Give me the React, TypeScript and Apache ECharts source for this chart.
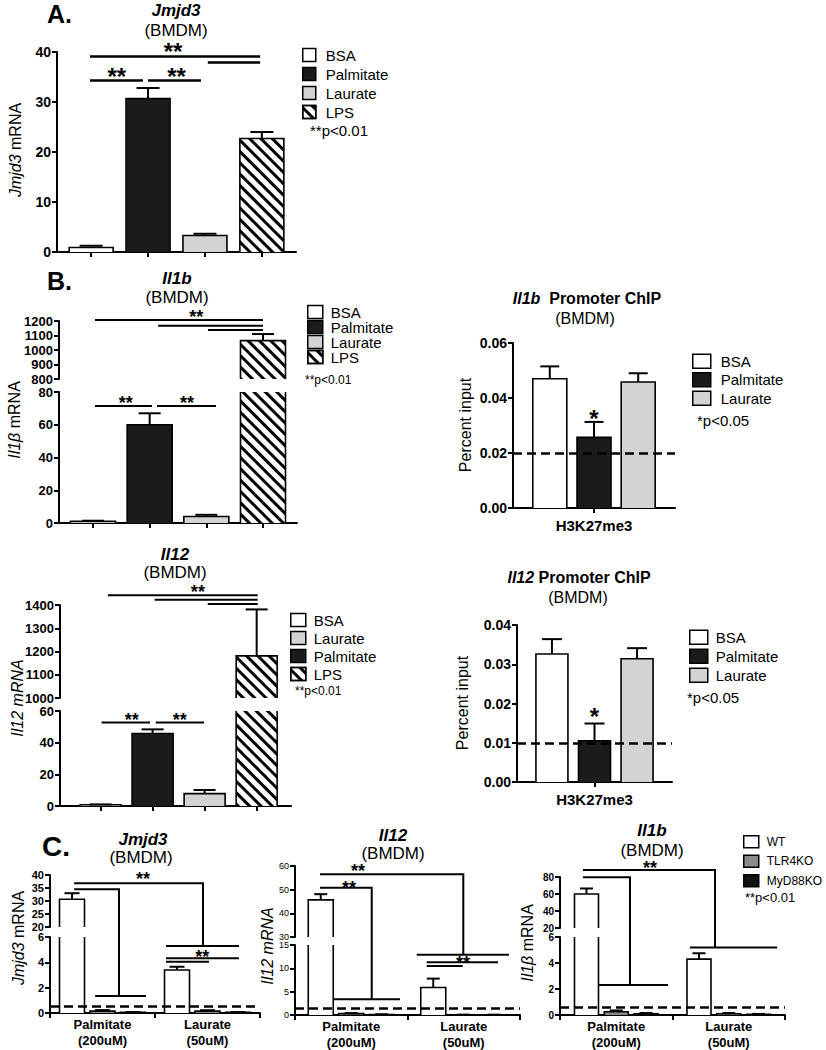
import React, { useEffect, useRef } from 'react';
import * as echarts from 'echarts';

const FONT = '"Liberation Sans", Arial, Helvetica, sans-serif';

// ---------------- DATA ----------------
const mainCategories = ['BSA', 'Palmitate', 'Laurate', 'LPS'];

const jmjd3Values = [0.9, 30.7, 3.3, 22.7];
const jmjd3Errors = [0.35, 2.1, 0.35, 1.3];
const jmjd3Axis = { min: 0, max: 40, step: 10 };

const il1bValues = [1.0, 60, 4.0, 1065];
const il1bErrors = [0.4, 7, 1.0, 45];
const il1bUpperAxis = { min: 800, max: 1200, step: 100 };
const il1bLowerAxis = { min: 0, max: 80, step: 20 };

const il12Values = [0.8, 45.8, 7.8, 1181];
const il12Errors = [0.2, 2.6, 2.3, 200];
const il12LegendOrder = ['BSA', 'Laurate', 'Palmitate', 'LPS'];
const il12UpperAxis = { min: 1000, max: 1400, step: 100 };
const il12LowerAxis = { min: 0, max: 60, step: 20 };

const chipCategories = ['H3K27me3'];
const chipTreatments = ['BSA', 'Palmitate', 'Laurate'];
const il1bChipValues = [0.047, 0.0257, 0.0458];
const il1bChipErrors = [0.0045, 0.0056, 0.0032];
const il1bChipBackground = 0.02;
const il1bChipAxis = { min: 0, max: 0.06, step: 0.02 };
const il12ChipValues = [0.0326, 0.0105, 0.0314];
const il12ChipErrors = [0.0038, 0.0044, 0.0027];
const il12ChipBackground = 0.0133;
const il12ChipAxis = { min: 0, max: 0.04, step: 0.01 };

const koGroups = ['Palmitate\n(200uM)', 'Laurate\n(50uM)'];
const genotypes = ['WT', 'TLR4KO', 'MyD88KO'];
const koJmjd3Values = [[30.7, 3.4], [0.15, 0.15], [0.05, 0.05]];
const koJmjd3Errors = [[2.3, 0.25], [0.08, 0.07], [0.02, 0.02]];
const koJmjd3Background = 0.55;
const koJmjd3UpperAxis = { min: 20, max: 40, step: 5 };
const koJmjd3LowerAxis = { min: 0, max: 6, step: 2 };
const koIl12Values = [[45.7, 5.9], [0.3, 0.05], [0.1, 0.05]];
const koIl12Errors = [[2.4, 1.9], [0.1, 0.03], [0.05, 0.02]];
const koIl12Background = 1.4;
const koIl12UpperAxis = { min: 30, max: 60, step: 10 };
const koIl12LowerAxis = { min: 0, max: 15, step: 5 };
const koIl1bValues = [[60, 4.3], [0.25, 0.1], [0.1, 0.05]];
const koIl1bErrors = [[6.5, 0.45], [0.1, 0.05], [0.05, 0.03]];
const koIl1bBackground = 0.6;
const koIl1bUpperAxis = { min: 20, max: 80, step: 20 };
const koIl1bLowerAxis = { min: 0, max: 6, step: 2 };

// significance brackets: points [gridIndex, x (category units), y (data units)]
const bracketsA = [
  [[0, -0.02, 39.1], [0, 2.97, 39.1]],
  [[0, 2.05, 37.9], [0, 2.97, 37.9]],
  [[0, -0.02, 34.3], [0, 0.91, 34.3]],
  [[0, 1.0, 34.3], [0, 1.93, 34.3]],
];
const bracketsB = [
  [[1, 0.035, 1207], [1, 3.0, 1207]],
  [[1, 1.15, 1167.6], [1, 3.0, 1167.6]],
  [[1, 2.03, 1138], [1, 3.0, 1138]],
  [[2, 0.035, 71.5], [2, 1.04, 71.5]],
  [[2, 1.13, 71.5], [2, 2.17, 71.5]],
];
const bracketsIl12 = [
  [[4, 0.14, 1441.9], [4, 3.02, 1441.9]],
  [[4, 1.04, 1422.9], [4, 3.02, 1422.9]],
  [[4, 2.06, 1404.3], [4, 3.02, 1404.3]],
  [[5, 0.02, 52.8], [5, 0.95, 52.8]],
  [[5, 1.06, 52.8], [5, 1.99, 52.8]],
];
const bracketsC = [
  [[7, -0.27, 36.8], [7, 0.957, 36.8], [8, 0.957, 5.29]],
  [[8, 0.605, 5.29], [8, 1.3, 5.29]],
  [[7, -0.27, 34.5], [7, 0.157, 34.5], [8, 0.157, 1.34]],
  [[8, -0.07, 1.34], [8, 0.414, 1.34]],
  [[8, 0.605, 4.32], [8, 1.3, 4.32]],
  [[8, 0.605, 4.05], [8, 1.014, 4.05]],
  [[9, -0.278, 56.5], [9, 0.996, 56.5], [10, 0.996, 12.9]],
  [[10, 0.582, 12.9], [10, 1.402, 12.9]],
  [[9, -0.278, 50.8], [9, 0.182, 50.8], [10, 0.182, 3.4]],
  [[10, -0.153, 3.4], [10, 0.433, 3.4]],
  [[10, 0.671, 11.3], [10, 1.304, 11.3]],
  [[10, 0.671, 10.5], [10, 0.991, 10.5]],
  [[11, -0.296, 88.2], [11, 0.878, 88.2], [12, 0.878, 5.2]],
  [[12, 0.655, 5.2], [12, 1.43, 5.2]],
  [[11, -0.296, 79.6], [11, 0.122, 79.6], [12, 0.122, 2.3]],
  [[12, -0.216, 2.3], [12, 0.46, 2.3]],
];
// stars: [gridIndex, x, y, text, fontSize]
const stars: any[] = [
  [0, 1.44, 40.8, '**', 24], [0, 0.45, 35.8, '**', 24], [0, 1.5, 35.8, '**', 24],
  [1, 1.82, 1245, '**', 18], [2, 0.58, 75.1, '**', 18], [2, 1.66, 75.1, '**', 18],
  [4, 1.87, 1466, '**', 18], [5, 0.6, 56.3, '**', 18], [5, 1.52, 56.3, '**', 18],
  [3, 0, 0.034, '*', 24], [6, 0, 0.0177, '*', 24],
  [7, 0.386, 39.35, '**', 18], [8, 0.95, 4.62, '**', 18],
  [9, 0.06, 59.0, '**', 18], [9, -0.02, 51.8, '**', 18], [10, 0.993, 11.77, '**', 18],
  [11, 0.3, 94.1, '**', 18],
];

// ---------------- STYLE ----------------
const FILL: any = {
  BSA: '#ffffff', Palmitate: '#1b1b1b', Laurate: '#d3d3d3', LPS: '#ffffff',
  WT: '#ffffff', TLR4KO: '#8a8a8a', MyD88KO: '#111111',
};
const HATCH = {
  symbol: 'rect', symbolSize: 1, color: '#000', backgroundColor: '#fff',
  dashArrayX: [1, 0], dashArrayY: [3, 5], rotation: Math.PI / 4,
};
function barStyle(name: string) {
  const s: any = { color: FILL[name], borderWidth: 0 };
  if (name === 'LPS') s.decal = HATCH;
  return s;
}

const GRIDS = [
  { left: 57, top: 52, width: 239, height: 200 },
  { left: 59, top: 321, width: 238, height: 58 },
  { left: 59, top: 392, width: 238, height: 131 },
  { left: 513, top: 343, width: 162, height: 165 },
  { left: 60, top: 605, width: 231, height: 93 },
  { left: 60, top: 711, width: 231, height: 95 },
  { left: 517, top: 625, width: 155, height: 157 },
  { left: 50, top: 875, width: 210, height: 52 },
  { left: 50, top: 937, width: 210, height: 76 },
  { left: 295, top: 866, width: 225, height: 71 },
  { left: 295, top: 945, width: 225, height: 72 },
  { left: 560, top: 877, width: 225, height: 51 },
  { left: 560, top: 937, width: 225, height: 78 },
];

function yAxis(g: number, ax: any, fontSize: number, bold: boolean, decimals: number) {
  return {
    type: 'value', gridIndex: g, min: ax.min, max: ax.max, interval: ax.step,
    axisLine: { show: true, onZero: false, lineStyle: { color: '#000', width: 2 } },
    axisTick: { show: true, length: 5, lineStyle: { color: '#000', width: 2 } },
    splitLine: { show: false },
    axisLabel: {
      show: true, margin: 6, color: '#000', fontSize, fontWeight: bold ? 'bold' : 'normal',
      fontFamily: FONT, showMinLabel: true, showMaxLabel: true,
      formatter: (v: number) => v.toFixed(decimals),
    },
  };
}
function xValueAxis(g: number, min: number, max: number, visible: boolean) {
  return {
    type: 'value', gridIndex: g, min, max, show: visible,
    axisLine: { show: true, onZero: false, lineStyle: { color: '#000', width: 2 } },
    axisTick: { show: true, customValues: [0, 1, 2, 3], length: 5, lineStyle: { color: '#000', width: 2 } },
    axisLabel: { show: false },
    splitLine: { show: false },
  };
}
function xCatAxis(g: number, data: string[], visible: boolean, fontSize: number, align: boolean, margin: number) {
  return {
    type: 'category', gridIndex: g, data, show: visible,
    axisLine: { show: true, onZero: false, lineStyle: { color: '#000', width: 2 } },
    axisTick: { show: true, alignWithLabel: align, length: 5, lineStyle: { color: '#000', width: 2 } },
    axisLabel: { show: true, interval: 0, color: '#000', fontSize, fontWeight: 'bold', fontFamily: FONT, lineHeight: fontSize + 3, margin },
    splitLine: { show: false },
  };
}

// frame (open at breaks) + error bar for every bar of a grid
function frameSeries(g: number, rows: number[][], n: number, barW: number, gap: number, cap: number) {
  return {
    type: 'custom', xAxisIndex: g, yAxisIndex: g, silent: true, z: 4, data: rows,
    renderItem: (params: any, api: any) => {
      const x = api.value(0), v = api.value(1), e = api.value(2), k = api.value(3);
      const topP = api.coord([x, v]);
      const baseP = api.coord([x, 0]);
      const errP = api.coord([x, v + e]);
      const cs = params.coordSys;
      const yMin = cs.y, yMax = cs.y + cs.height;
      if (topP[1] > yMax + 0.5) return null;
      const cx = topP[0] + (k - (n - 1) / 2) * barW * (1 + gap);
      const xl = cx - barW / 2, xr = cx + barW / 2;
      const yT = Math.max(topP[1], yMin);
      const yB = Math.min(baseP[1], yMax);
      const topOpen = topP[1] < yMin - 0.5;
      const st = { stroke: '#000', lineWidth: 1.6, fill: null };
      const children: any[] = [];
      if (topOpen) {
        children.push({ type: 'line', shape: { x1: xl, y1: yB, x2: xl, y2: yT }, style: st });
        children.push({ type: 'line', shape: { x1: xr, y1: yB, x2: xr, y2: yT }, style: st });
      } else {
        children.push({ type: 'polyline', shape: { points: [[xl, yB], [xl, yT], [xr, yT], [xr, yB]] }, style: st });
        const es = { stroke: '#000', lineWidth: 2 };
        children.push({ type: 'line', shape: { x1: cx, y1: topP[1], x2: cx, y2: errP[1] }, style: es });
        children.push({ type: 'line', shape: { x1: cx - cap / 2, y1: errP[1], x2: cx + cap / 2, y2: errP[1] }, style: es });
      }
      return { type: 'group', children };
    },
  };
}

function dashed(value: number) {
  return {
    silent: true, symbol: 'none', label: { show: false },
    lineStyle: { type: [9, 5], width: 2.5, color: '#000' },
    data: [{ yAxis: value }],
  };
}

function legend(names: string[], left: number, top: number, w: number, h: number, gap: number, fs: number, pad: number) {
  return {
    data: names, left, top, orient: 'vertical', padding: 0, itemWidth: w, itemHeight: h, itemGap: gap,
    icon: 'rect', selectedMode: false,
    itemStyle: { borderColor: '#000', borderWidth: 1.5 },
    textStyle: { fontSize: fs, fontFamily: FONT, color: '#000', padding: [0, 0, 0, pad] },
  };
}

function buildOption() {
  const xAxes: any[] = [
    xValueAxis(0, -0.6, 3.6, true),
    xValueAxis(1, -0.6, 3.6, false),
    xValueAxis(2, -0.6, 3.6, true),
    xCatAxis(3, chipCategories, true, 15, true, 8),
    xValueAxis(4, -0.78, 3.66, false),
    xValueAxis(5, -0.78, 3.66, true),
    xCatAxis(6, chipCategories, true, 15, true, 8),
    xCatAxis(7, koGroups, false, 13, false, 3),
    xCatAxis(8, koGroups, true, 13, false, 3),
    xCatAxis(9, koGroups, false, 13, false, 3),
    xCatAxis(10, koGroups, true, 13, false, 3),
    xCatAxis(11, koGroups, false, 13, false, 3),
    xCatAxis(12, koGroups, true, 13, false, 3),
  ];
  const yAxes: any[] = [
    yAxis(0, jmjd3Axis, 14, true, 0),
    yAxis(1, il1bUpperAxis, 13, true, 0),
    yAxis(2, il1bLowerAxis, 13, true, 0),
    yAxis(3, il1bChipAxis, 14, true, 2),
    yAxis(4, il12UpperAxis, 13, true, 0),
    yAxis(5, il12LowerAxis, 13, true, 0),
    yAxis(6, il12ChipAxis, 14, true, 2),
    yAxis(7, koJmjd3UpperAxis, 11, true, 0),
    yAxis(8, koJmjd3LowerAxis, 11, true, 0),
    yAxis(9, koIl12UpperAxis, 9, false, 0),
    yAxis(10, koIl12LowerAxis, 9, false, 0),
    yAxis(11, koIl1bUpperAxis, 10, true, 0),
    yAxis(12, koIl1bLowerAxis, 10, true, 0),
  ];

  const series: any[] = [];
  const single = (grids: number[], values: number[], errors: number[], barWidth: number, cap: number) => {
    grids.forEach((g) => {
      mainCategories.forEach((name, i) => {
        series.push({
          type: 'bar', name, xAxisIndex: g, yAxisIndex: g, data: [[i, values[i]]],
          barWidth, barGap: '-100%', itemStyle: barStyle(name), clip: true, z: 2,
        });
      });
      series.push(frameSeries(g, mainCategories.map((_, i) => [i, values[i], errors[i], 0]), 1, barWidth, 0, cap));
    });
  };
  single([0], jmjd3Values, jmjd3Errors, 44, 23);
  single([1, 2], il1bValues, il1bErrors, 45, 22);
  single([4, 5], il12Values, il12Errors, 41, 22);

  const chip = (g: number, values: number[], errors: number[], bg: number, barWidth: number, gap: number, cap: number) => {
    chipTreatments.forEach((name, j) => {
      series.push({
        type: 'bar', name, xAxisIndex: g, yAxisIndex: g, data: [values[j]],
        barWidth, barGap: `${gap * 100}%`, itemStyle: barStyle(name), z: 2,
      });
    });
    series.push(frameSeries(g, chipTreatments.map((_, j) => [0, values[j], errors[j], j]), 3, barWidth, gap, cap));
    series.push({
      type: 'line', xAxisIndex: g, yAxisIndex: g, data: [], z: 5, silent: true,
      markLine: dashed(bg),
    });
  };
  chip(3, il1bChipValues, il1bChipErrors, il1bChipBackground, 34, 0.3, 19);
  chip(6, il12ChipValues, il12ChipErrors, il12ChipBackground, 32, 0.33, 20);

  const ko = (grids: number[], values: number[][], errors: number[][], bg: number, barWidth: number, gap: number, cap: number) => {
    grids.forEach((g, gi) => {
      genotypes.forEach((name, j) => {
        series.push({
          type: 'bar', name, xAxisIndex: g, yAxisIndex: g, data: values[j],
          barWidth, barGap: `${gap * 100}%`, itemStyle: barStyle(name), clip: true, z: 2,
        });
      });
      const rows: number[][] = [];
      koGroups.forEach((_, k) => genotypes.forEach((__, j) => rows.push([k, values[j][k], errors[j][k], j])));
      series.push(frameSeries(g, rows, 3, barWidth, gap, cap));
      if (gi === 1) {
        series.push({
          type: 'line', xAxisIndex: g, yAxisIndex: g, data: [], z: 5, silent: true,
          markLine: dashed(bg),
        });
      }
    });
  };
  ko([7, 8], koJmjd3Values, koJmjd3Errors, koJmjd3Background, 25, 0.22, 15);
  ko([9, 10], koIl12Values, koIl12Errors, koIl12Background, 25, 0.22, 13);
  ko([11, 12], koIl1bValues, koIl1bErrors, koIl1bBackground, 24, 0.24, 13);

  return {
    animation: false,
    backgroundColor: '#fff',
    textStyle: { fontFamily: FONT },
    grid: GRIDS.map((g) => ({ ...g, containLabel: false })),
    xAxis: xAxes,
    yAxis: yAxes,
    legend: [
      legend(mainCategories, 302, 47.5, 13, 13, 4, 15, 5),
      legend(mainCategories, 307, 304.5, 15, 13, 0, 15, 3),
      legend(chipTreatments, 692, 353.5, 18, 14, 3, 15, 5),
      legend(il12LegendOrder, 290, 612.5, 15, 13, 3, 15, 3),
      legend(chipTreatments, 689, 629.5, 18, 14, 3.5, 15, 3),
      legend(genotypes, 743, 835, 15, 12, 6, 12, 3),
    ],
    series,
  };
}

function txt(x: number, y: number, text: string, fontSize: number, opts: any = {}) {
  return {
    type: 'text', x, y, rotation: opts.rotation || 0, silent: true,
    style: {
      text, fontSize, fontFamily: FONT, fontWeight: opts.weight || 'normal', fontStyle: opts.style || 'normal',
      fill: '#000', align: opts.align || 'center', verticalAlign: 'middle',
      textAlign: opts.align || 'center', textVerticalAlign: 'middle',
      rich: opts.rich,
    },
  };
}

function buildGraphics(chart: any) {
  const els: any[] = [];
  const conv = (g: number, x: number, y: number) => {
    const f = { xAxisIndex: g, yAxisIndex: g };
    const p0 = chart.convertToPixel(f, [0, y]) as number[];
    if (x === 0) return [p0[0], p0[1]];
    const p1 = chart.convertToPixel(f, [1, y]) as number[];
    return [p0[0] + x * (p1[0] - p0[0]), p0[1]];
  };
  const addBrackets = (list: any[], lw: number) => list.forEach((b) => {
    els.push({
      type: 'polyline', silent: true,
      shape: { points: b.map((p: number[]) => conv(p[0], p[1], p[2])) },
      style: { stroke: '#000', lineWidth: lw, fill: null },
    });
  });
  addBrackets(bracketsA, 2.5);
  addBrackets(bracketsB, 2);
  addBrackets(bracketsIl12, 2);
  addBrackets(bracketsC, 2);
  stars.forEach(([g, x, y, t, fs]) => {
    const p = conv(g, x, y);
    els.push(txt(p[0], p[1] + 0.15 * fs, t, fs, { weight: 'bold' }));
  });

  const bi = (fs: number) => ({ fontStyle: 'italic', fontWeight: 'bold', fontSize: fs, fontFamily: FONT });
  const it = (fs: number) => ({ fontStyle: 'italic', fontSize: fs, fontFamily: FONT });
  const bd = (fs: number) => ({ fontWeight: 'bold', fontSize: fs, fontFamily: FONT });
  const R = Math.PI / 2;

  // panel letters
  els.push(txt(47, 14, 'A.', 25, { weight: 'bold', align: 'left' }));
  els.push(txt(47, 281, 'B.', 25, { weight: 'bold', align: 'left' }));
  els.push(txt(42, 846, 'C.', 28, { weight: 'bold', align: 'left' }));

  // titles
  els.push(txt(176, 10, '{a|Jmjd3}', 17, { rich: { a: bi(17) } }));
  els.push(txt(176, 30, '(BMDM)', 17));
  els.push(txt(177, 278, '{a|Il1b}', 17, { rich: { a: bi(17) } }));
  els.push(txt(177, 297, '(BMDM)', 17));
  els.push(txt(175, 554, '{a|Il12}', 17, { rich: { a: bi(17) } }));
  els.push(txt(175, 572, '(BMDM)', 17));
  els.push(txt(587, 298, '{a|Il1b}  {b|Promoter ChIP}', 16, { rich: { a: bi(16), b: bd(16) } }));
  els.push(txt(585, 318, '(BMDM)', 16));
  els.push(txt(579, 577, '{a|Il12} {b|Promoter ChIP}', 16, { rich: { a: bi(16), b: bd(16) } }));
  els.push(txt(578, 597, '(BMDM)', 16));
  els.push(txt(143, 839, '{a|Jmjd3}', 17, { rich: { a: bi(17) } }));
  els.push(txt(141, 857, '(BMDM)', 17));
  els.push(txt(393, 835, '{a|Il12}', 17, { rich: { a: bi(17) } }));
  els.push(txt(393, 853, '(BMDM)', 17));
  els.push(txt(652, 830, '{a|Il1b}', 17, { rich: { a: bi(17) } }));
  els.push(txt(652, 850, '(BMDM)', 17));

  // axis titles
  els.push(txt(15, 150, '{a|Jmjd3} mRNA', 16, { rotation: R, rich: { a: it(16) } }));
  els.push(txt(14, 420, '{a|Il1β} mRNA', 16, { rotation: R, rich: { a: it(16) } }));
  els.push(txt(17, 698, '{a|Il12 mRNA}', 16, { rotation: R, rich: { a: it(16) } }));
  els.push(txt(465, 425, 'Percent input', 16, { rotation: R }));
  els.push(txt(462, 703, 'Percent input', 16, { rotation: R }));
  els.push(txt(18, 938, '{a|Jmjd3} mRNA', 16, { rotation: R, rich: { a: it(16) } }));
  els.push(txt(267, 946, '{a|Il12 mRNA}', 16, { rotation: R, rich: { a: it(16) } }));
  els.push(txt(527, 943, '{a|Il1β} mRNA', 16, { rotation: R, rich: { a: it(16) } }));

  // p-value notes
  els.push(txt(310, 130, '**p<0.01', 15, { align: 'left' }));
  els.push(txt(305, 380, '**p<0.01', 12, { align: 'left' }));
  els.push(txt(697, 420, '*p<0.05', 15, { align: 'left' }));
  els.push(txt(295, 691, '**p<0.01', 12, { align: 'left' }));
  els.push(txt(687, 697, '*p<0.05', 15, { align: 'left' }));
  els.push(txt(745, 897, '**p<0.01', 13, { align: 'left' }));
  return els;
}

export default function App() {
  const ref = useRef<HTMLDivElement>(null);
  useEffect(() => {
    const chart = echarts.init(ref.current as HTMLDivElement, null, { renderer: 'svg' });
    chart.setOption(buildOption() as any);
    chart.setOption({ graphic: { elements: buildGraphics(chart) } } as any);
    return () => chart.dispose();
  }, []);
  return (
    <div
      ref={ref}
      style={{ position: 'absolute', left: 0, top: 0, width: 826, height: 1050, background: '#fff' }}
    />
  );
}
